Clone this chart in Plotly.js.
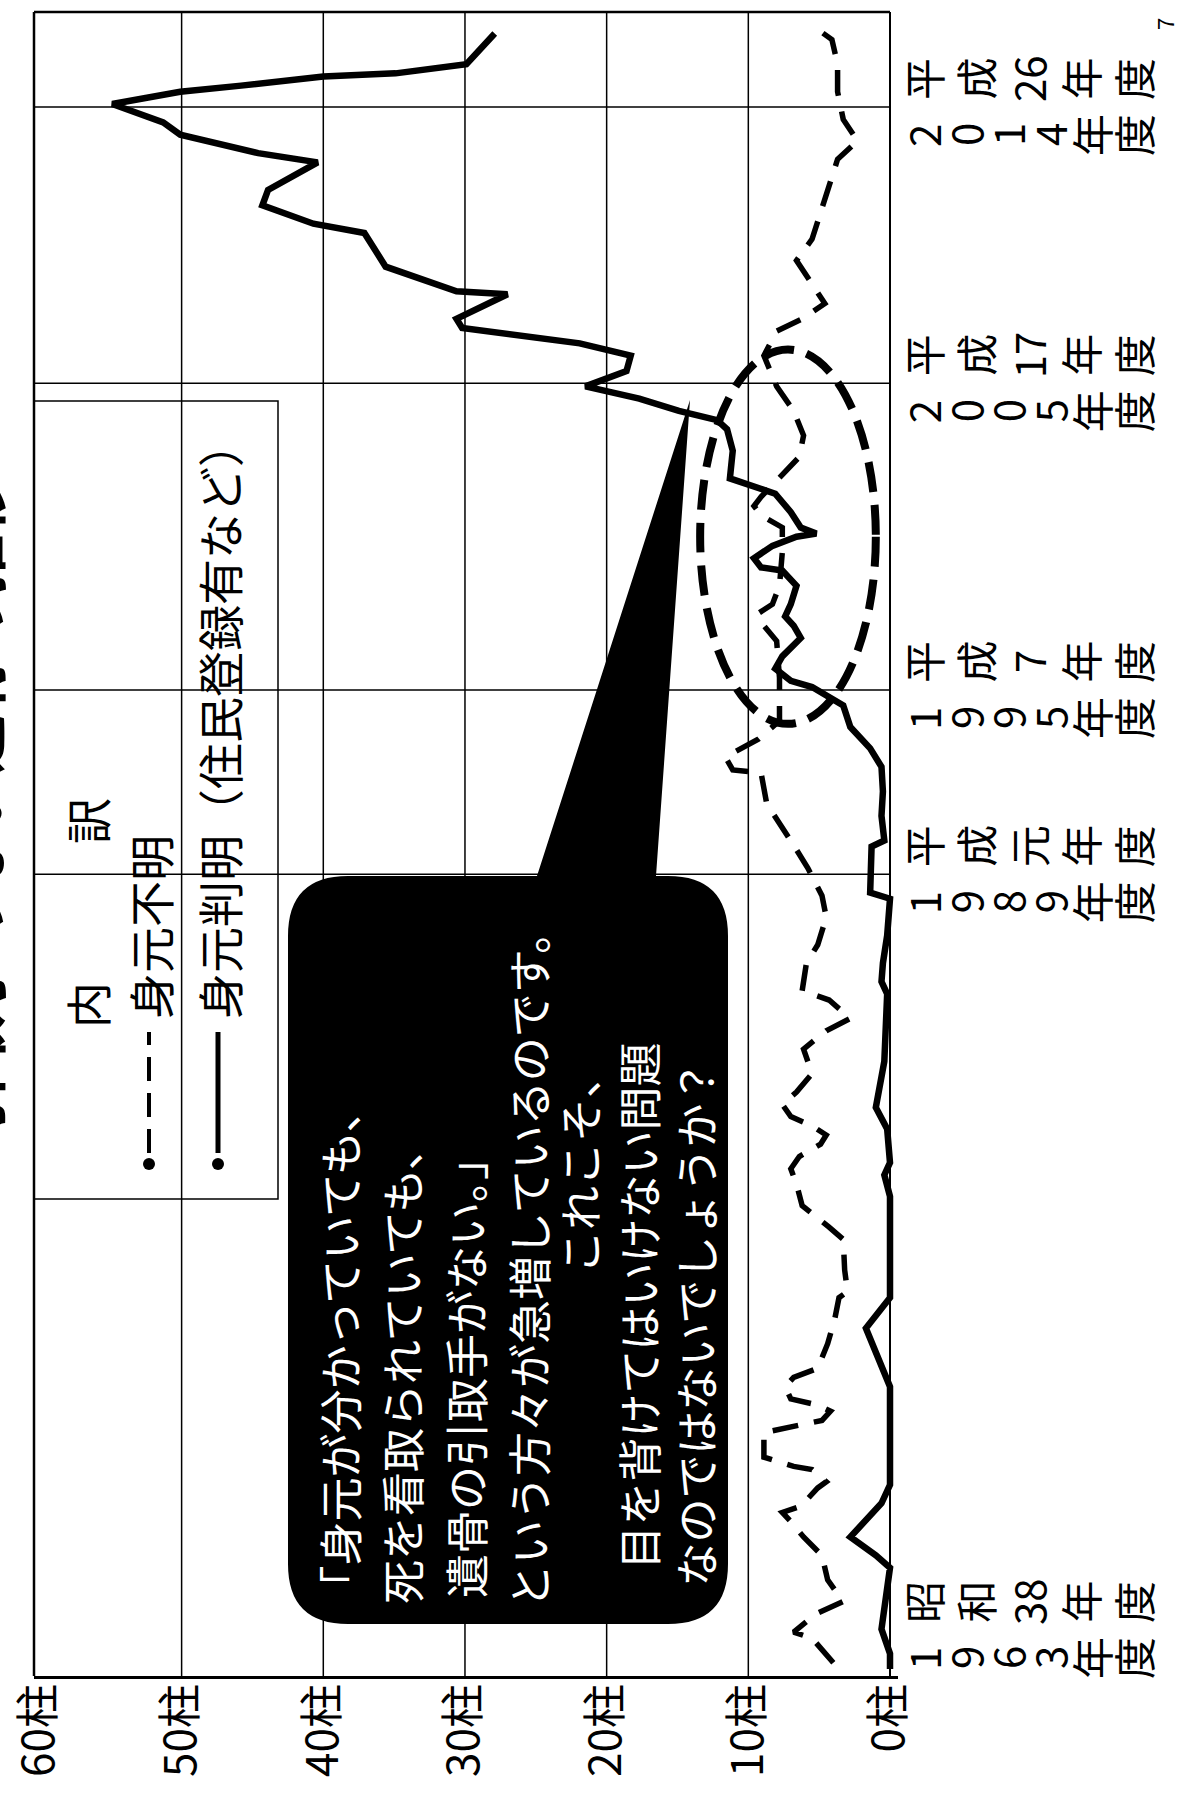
<!DOCTYPE html>
<html>
<head>
<meta charset="utf-8">
<script src="https://cdn.plot.ly/plotly-3.0.1.min.js"></script>
<style>
  body { margin: 0; background: #fff; }
  #chart { width: 1184px; height: 1799px; }
</style>
</head>
<body>
<div id="chart"></div>
<script>
// 身元判明(住民登録有など) - solid line
const knownYears = [1963.1, 1963.6, 1964.4, 1965.6, 1966.4, 1966.8, 1967.4, 1968.5, 1969.1, 1972.3,
  1974.2, 1975.2, 1975.8, 1978.5, 1979.2, 1979.6, 1980.7, 1981.4, 1982.9, 1985.1,
  1985.5, 1986.1, 1987.0, 1987.8, 1988.2, 1988.4, 1989.2, 1989.9, 1990.1, 1990.9,
  1991.7, 1992.5, 1993.1, 1993.8, 1994.5, 1995.1, 1995.3, 1995.7, 1996.1, 1996.7,
  1997.1, 1997.4, 1997.8, 1998.4, 1998.9, 1999.0, 1999.3, 1999.7, 2000.0, 2000.1,
  2000.3, 2000.8, 2001.4, 2001.7, 2001.9, 2002.8, 2003.5, 2003.8, 2004.1, 2004.5,
  2004.9, 2005.4, 2005.9, 2006.3, 2006.8, 2007.1, 2007.9, 2008.0, 2008.8, 2009.9,
  2010.2, 2010.8, 2011.3, 2012.2, 2012.5, 2013.1, 2013.5, 2014.1, 2014.5, 2014.7,
  2015.0, 2015.1, 2015.4, 2016.4];
const knownCounts = [0, 0, 0.6, 0.2, 0, 1.0, 2.8, 0.6, 0, 0,
  1.7, 0, 0, 0, 0.4, 0, 0.2, 1.0, 0.4, 0.2,
  0.6, 0.5, 0.2, 0, 0, 1.4, 1.4, 1.3, 0.4, 0.6,
  0.5, 0.6, 1.4, 2.8, 3.3, 5.5, 7.0, 8.1, 7.6, 6.3,
  6.8, 7.4, 7.0, 6.6, 7.6, 9.1, 9.6, 8.3, 6.6, 5.2,
  6.3, 7.0, 8.1, 10.1, 11.3, 11.1, 11.5, 12.2, 14.9, 17.7,
  21.5, 18.6, 18.3, 21.9, 30.2, 30.6, 27.0, 30.6, 35.6, 37.1,
  40.7, 44.3, 43.9, 40.4, 44.6, 50.1, 51.3, 54.9, 50.1, 45.8,
  40.0, 34.9, 29.9, 27.9];

// 身元不明 - dashed line
const unknownYears = [1963.3, 1964.1, 1964.3, 1964.9, 1965.3, 1966.0, 1966.8, 1967.4, 1967.9, 1968.2,
  1968.4, 1969.0, 1969.2, 1969.6, 1969.7, 1970.0, 1970.8, 1971.0, 1971.2, 1971.5,
  1971.7, 1971.9, 1972.3, 1972.6, 1972.9, 1973.7, 1974.5, 1975.2, 1975.4, 1976.1,
  1977.1, 1977.5, 1978.2, 1978.9, 1979.4, 1979.8, 1980.2, 1980.5, 1980.8, 1981.1,
  1981.5, 1981.9, 1982.5, 1983.3, 1983.9, 1984.3, 1984.9, 1985.2, 1986.1, 1986.7,
  1987.6, 1988.3, 1989.2, 1989.8, 1990.7, 1991.3, 1992.3, 1992.4, 1992.8, 1993.0,
  1993.4, 1994.0, 1995.4, 1996.6, 1997.1, 1997.5, 1997.8, 1998.4, 1999.5, 2000.3,
  2000.7, 2001.0, 2001.3, 2002.0, 2002.6, 2003.3, 2004.1, 2004.9, 2005.9, 2006.7,
  2007.1, 2007.6, 2008.3, 2009.0, 2009.7, 2010.7, 2011.5, 2012.3, 2012.9, 2013.6,
  2014.5, 2015.4, 2016.2, 2016.7];
const unknownCounts = [4.0, 5.5, 6.8, 5.2, 3.3, 4.4, 4.8, 6.1, 7.0, 7.6,
  6.3, 5.1, 4.5, 5.5, 6.8, 8.9, 8.9, 6.8, 4.8, 4.2,
  5.1, 7.0, 7.4, 6.8, 5.1, 4.4, 3.9, 3.6, 3.0, 3.2,
  3.3, 4.3, 6.2, 6.6, 7.0, 6.4, 4.9, 4.5, 5.5, 7.0,
  7.6, 6.6, 5.5, 6.1, 4.5, 2.8, 4.3, 6.2, 5.9, 5.1,
  4.5, 4.8, 5.8, 6.6, 7.8, 8.7, 9.1, 11.1, 11.6, 10.9,
  9.3, 7.8, 7.8, 8.0, 8.9, 9.3, 8.3, 7.8, 7.6, 7.6,
  9.1, 9.6, 9.1, 7.6, 6.4, 6.1, 6.8, 8.0, 8.9, 8.0,
  6.2, 4.6, 5.6, 6.6, 5.5, 4.8, 4.2, 3.7, 2.3, 3.3,
  3.7, 3.7, 4.1, 5.6];

// axis ticks and labels
const countTicks = [0, 10, 20, 30, 40, 50, 60];
const countLabels = countTicks.map(v => v + '柱');
const gridCounts = [10, 20, 30, 40, 50];
const yearTicks = [1963, 1989, 1995, 2005, 2014];
const gridYears = [1989, 1995, 2005, 2014];
const warekiLabels = ['昭和38年度', '平成元年度', '平成7年度', '平成17年度', '平成26年度'];
const seirekiLabels = ['1963年度', '1989年度', '1995年度', '2005年度', '2014年度'];

const legendTitle = '内　　　訳';
const legendNames = ['身元不明', '身元判明（住民登録有など）'];
const titleText = '引取手のない遺骨の推移';

const calloutLines = [
    '「身元が分かっていても、',
    '死を看取られていても、',
    '遺骨の引取手がない。」',
    'という方々が急増しているのです。',
    'これこそ、',
    '目を背けてはいけない問題',
    'なのではないでしょうか？'
];

// page geometry (the page is a scan turned on its side)
const PL = 34, PR = 898, PT = 12, PB = 1676;
const px = x => (x - PL) / (PR - PL);
const py = y => (PB - y) / (PB - PT);
const xRange = [60.42, -0.565];
const yRange = [1962.87, 2017.10];
const JP = '"Noto Sans CJK JP", "Noto Sans", sans-serif';

const traces = [
    {
        x: unknownCounts, y: unknownYears, name: legendNames[0],
        type: 'scatter', mode: 'lines',
        line: { color: '#000', width: 5.5, dash: '26px,16px' },
        hoverinfo: 'skip'
    },
    {
        x: knownCounts, y: knownYears, name: legendNames[1],
        type: 'scatter', mode: 'lines',
        line: { color: '#000', width: 6.5 },
        hoverinfo: 'skip'
    }
];

const shapes = [];
const annotations = [];

// grid
gridCounts.forEach(v => shapes.push({
    type: 'line', xref: 'x', yref: 'paper', x0: v, x1: v, y0: 0, y1: 1,
    line: { color: '#000', width: 1.5 }, layer: 'below'
}));
gridYears.forEach(t => shapes.push({
    type: 'line', xref: 'x', yref: 'y', x0: xRange[0], x1: 0, y0: t, y1: t,
    line: { color: '#000', width: 1.5 }, layer: 'below'
}));
// borders
shapes.push({ type: 'line', xref: 'paper', yref: 'paper', x0: 0, x1: 0, y0: 0, y1: 1,
    line: { color: '#000', width: 2.5 }, layer: 'below' });
shapes.push({ type: 'line', xref: 'x', yref: 'paper', x0: xRange[0], x1: 0, y0: 1, y1: 1,
    line: { color: '#000', width: 2.5 }, layer: 'below' });

// dashed ellipse round the 1995-2005 part
shapes.push({
    type: 'circle', xref: 'x', yref: 'y', x0: 13.4, x1: 1.0, y0: 1993.9, y1: 2006.1,
    line: { color: '#000', width: 8, dash: '30px,13px' }, layer: 'above'
});

// speech bubble
function bubblePath() {
    const l = 288, r = 728, t = 876, b = 1624, rad = 60;
    const P = (x, y) => px(x).toFixed(5) + ',' + py(y).toFixed(5);
    return 'M' + P(l + rad, t) + ' L' + P(537, t) + ' L' + P(690, 400) + ' L' + P(656, t) +
        ' L' + P(r - rad, t) + ' Q' + P(r, t) + ' ' + P(r, t + rad) +
        ' L' + P(r, b - rad) + ' Q' + P(r, b) + ' ' + P(r - rad, b) +
        ' L' + P(l + rad, b) + ' Q' + P(l, b) + ' ' + P(l, b - rad) +
        ' L' + P(l, t + rad) + ' Q' + P(l, t) + ' ' + P(l + rad, t) + ' Z';
}
shapes.push({ type: 'path', xref: 'paper', yref: 'paper', path: bubblePath(),
    fillcolor: '#000', line: { width: 0 }, layer: 'above' });

const calloutPos = [
    [338, 1612, 'bottom'], [401, 1606, 'bottom'], [465, 1600, 'bottom'], [528, 1610, 'bottom'],
    [579, 1164, 'middle'], [637, 1572, 'bottom'], [694, 1589, 'bottom']
];
calloutLines.forEach((s, i) => {
    const p = calloutPos[i];
    annotations.push({
        xref: 'paper', yref: 'paper', x: px(p[0]), y: py(p[1]),
        xanchor: 'center', yanchor: p[2], text: s, showarrow: false, textangle: -90,
        font: { family: JP, size: 44, color: '#fff' }
    });
});

// legend box
shapes.push({ type: 'rect', xref: 'paper', yref: 'paper',
    x0: px(34), x1: px(278), y0: py(1199), y1: py(401),
    line: { color: '#000', width: 1.5 }, layer: 'above' });
annotations.push({ xref: 'paper', yref: 'paper', x: px(86), y: py(913),
    xanchor: 'center', yanchor: 'middle',
    text: legendTitle, showarrow: false, textangle: -90,
    font: { family: JP, size: 46, color: '#000' } });
[149, 218].forEach((cx, i) => {
    shapes.push({ type: 'circle', xref: 'paper', yref: 'paper',
        x0: px(cx - 6), x1: px(cx + 6), y0: py(1170), y1: py(1158),
        fillcolor: '#000', line: { width: 0 } });
    shapes.push({ type: 'line', xref: 'paper', yref: 'paper',
        x0: px(cx), x1: px(cx), y0: py(1153), y1: py(1032),
        line: { color: '#000', width: i === 0 ? 4 : 5, dash: i === 0 ? '24px,12px' : 'solid' } });
    annotations.push({ xref: 'paper', yref: 'paper', x: px(cx), y: py(1021),
        xanchor: 'center', yanchor: 'bottom', text: legendNames[i], showarrow: false, textangle: -90,
        font: { family: JP, size: 46, color: '#000' } });
});

// year labels: each glyph turned, laid out across the row
function cellsOf(str, groupDigits) {
    return groupDigits ? str.match(/\d+|./g) : str.split('');
}
yearTicks.forEach((yr, i) => {
    const lift = i === 0 ? 42 : 0;   // first label sits above the axis corner
    [[warekiLabels[i], true, 28], [seirekiLabels[i], false, -28]].forEach(row => {
        const cells = cellsOf(row[0], row[1]);
        const x0 = 922, x1 = 1132;
        const step = (x1 - x0) / (cells.length - 1);
        cells.forEach((c, k) => annotations.push({
            xref: 'paper', yref: 'y', x: px(x0 + k * step), y: yr, yshift: row[2] + lift,
            xanchor: 'center', yanchor: 'middle', text: c, showarrow: false, textangle: -90,
            font: { family: JP, size: 42, color: '#000' }
        }));
    });
});

// title, mostly cut off at the page edge as in the scan
annotations.push({ xref: 'paper', yref: 'paper', x: px(18), y: py(805),
    xanchor: 'right', yanchor: 'middle',
    text: '<b>' + titleText + '</b>', showarrow: false, textangle: -90,
    font: { family: JP, size: 60, color: '#000' } });
// page number
annotations.push({ xref: 'paper', yref: 'paper', x: px(1164), y: py(24),
    xanchor: 'center', yanchor: 'middle',
    text: '7', showarrow: false, textangle: -90,
    font: { family: JP, size: 22, color: '#000' } });

const layout = {
    width: 1184, height: 1799,
    margin: { l: PL, r: 1184 - PR, t: PT, b: 1799 - PB },
    paper_bgcolor: '#fff', plot_bgcolor: '#fff',
    showlegend: false,
    xaxis: {
        range: xRange, tickvals: countTicks, ticktext: countLabels, tickangle: -90,
        tickfont: { family: JP, size: 44, color: '#000' },
        ticklabelstandoff: -12,
        showgrid: false, ticks: '',
        zeroline: true, zerolinecolor: '#000', zerolinewidth: 2.5,
        showline: true, linecolor: '#000', linewidth: 2.5, fixedrange: true
    },
    yaxis: {
        range: yRange, showticklabels: false, showgrid: false, zeroline: false,
        showline: false, ticks: '', fixedrange: true
    },
    shapes: shapes,
    annotations: annotations
};

Plotly.newPlot('chart', traces, layout, { staticPlot: true });
</script>
</body>
</html>
